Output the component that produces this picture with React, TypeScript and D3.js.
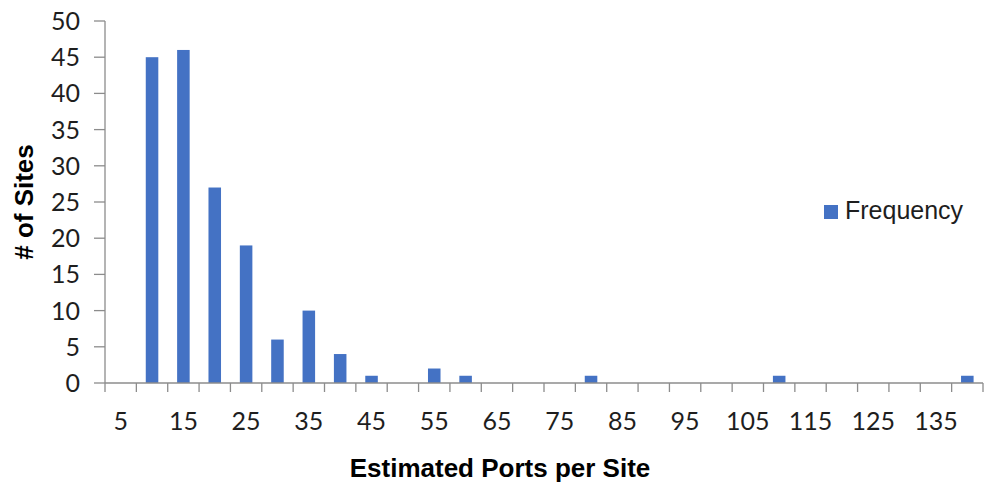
import React from "react";
import * as d3 from "d3";

// Histogram bins (estimated ports per site) and number of sites in each bin
const bins: number[] = [
  5, 10, 15, 20, 25, 30, 35, 40, 45, 50, 55, 60, 65, 70, 75, 80, 85, 90, 95, 100,
  105, 110, 115, 120, 125, 130, 135, 140,
];
const frequency: number[] = [
  0, 45, 46, 27, 19, 6, 10, 4, 1, 0, 2, 1, 0, 0, 0, 1, 0, 0, 0, 0, 0, 1, 0, 0, 0,
  0, 0, 1,
];
const yTicks: number[] = [0, 5, 10, 15, 20, 25, 30, 35, 40, 45, 50];
const xLabelBins: number[] = [5, 15, 25, 35, 45, 55, 65, 75, 85, 95, 105, 115, 125, 135];

const seriesName = "Frequency";
const xTitle = "Estimated Ports per Site";
const yTitle = "# of Sites";

const W = 993;
const H = 496;
const left = 105;
const right = 983;
const top = 21;
const bottom = 383;

const axisColor = "#8c8c8c";
const barColor = "#4472C4";
const textColor = "#1e1e1e";

export default function App() {
  const x = d3
    .scaleBand<string>()
    .domain(bins.map(String))
    .range([left, right])
    .padding(0);
  const y = d3.scaleLinear().domain([0, 50]).range([bottom, top]);
  const bw = x.bandwidth();
  const barW = bw * 0.4;

  const boundaries = d3.range(bins.length + 1).map((i) => left + i * x.step());

  return (
    <div style={{ position: "fixed", left: 0, top: 0, width: W, height: H, background: "#fff" }}>
      <svg width={W} height={H} viewBox={`0 0 ${W} ${H}`}>
        <rect x={0} y={0} width={W} height={H} fill="#fff" />

        {/* bars */}
        {bins.map((b, i) =>
          frequency[i] > 0 ? (
            <rect
              key={b}
              x={(x(String(b)) as number) + (bw - barW) / 2}
              y={y(frequency[i])}
              width={barW}
              height={y(0) - y(frequency[i])}
              fill={barColor}
            />
          ) : null
        )}

        {/* y axis */}
        <line x1={left} x2={left} y1={y(50)} y2={y(0)} stroke={axisColor} strokeWidth={1.3} />
        {yTicks.map((t) => (
          <g key={t}>
            <line x1={left - 11} x2={left} y1={y(t)} y2={y(t)} stroke={axisColor} strokeWidth={1.3} />
            <text
              x={80}
              y={y(t)}
              dy="0.36em"
              textAnchor="end"
              fontFamily="Lato, 'Open Sans', sans-serif"
              fontSize={25}
              fill={textColor}
            >
              {t}
            </text>
          </g>
        ))}

        {/* x axis */}
        <line x1={left} x2={right} y1={y(0)} y2={y(0)} stroke={axisColor} strokeWidth={1.3} />
        {boundaries.map((bx, i) => (
          <line key={i} x1={bx} x2={bx} y1={y(0)} y2={y(0) + 9} stroke={axisColor} strokeWidth={1.3} />
        ))}
        {xLabelBins.map((b) => (
          <text
            key={b}
            x={(x(String(b)) as number) + bw / 2}
            y={421}
            dy="0.36em"
            textAnchor="middle"
            fontFamily="Lato, 'Open Sans', sans-serif"
            fontSize={25}
            fill={textColor}
          >
            {b}
          </text>
        ))}

        {/* axis titles */}
        <text
          x={500}
          y={477}
          textAnchor="middle"
          fontFamily="'Liberation Sans', Arial, sans-serif"
          fontWeight="bold"
          fontSize={26}
          fill="#000"
        >
          {xTitle}
        </text>
        <text
          transform={`translate(33, ${202}) rotate(-90)`}
          textAnchor="middle"
          fontFamily="'Liberation Sans', Arial, sans-serif"
          fontWeight="bold"
          fontSize={26}
          fill="#000"
        >
          {yTitle}
        </text>

        {/* legend */}
        <rect x={824} y={205} width={14} height={14} fill={barColor} />
        <text
          x={845}
          y={219}
          fontFamily="'Liberation Sans', Arial, sans-serif"
          fontSize={25}
          fill={textColor}
        >
          {seriesName}
        </text>
      </svg>
    </div>
  );
}
